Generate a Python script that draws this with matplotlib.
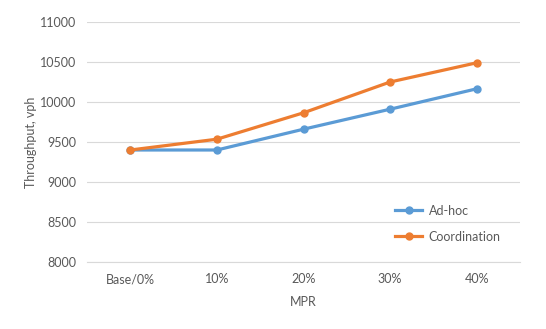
import matplotlib.pyplot as plt

categories = ["Base/0%", "10%", "20%", "30%", "40%"]
adhoc = [9400, 9400, 9660, 9910, 10165]
coordination = [9400, 9535, 9865, 10250, 10490]
y_ticks = [8000, 8500, 9000, 9500, 10000, 10500, 11000]

plt.rcParams['font.family'] = ['Lato', 'DejaVu Sans']
text_color = '#595959'

fig = plt.figure(figsize=(5.46, 3.29), dpi=100)
ax = fig.add_axes([87 / 546, 1 - 262 / 329, (520 - 87) / 546, (262 - 22) / 329])

x = range(len(categories))
ax.plot(x, adhoc, color='#5B9BD5', lw=2.3, marker='o', ms=5, label='Ad-hoc', zorder=3)
ax.plot(x, coordination, color='#ED7D31', lw=2.3, marker='o', ms=5, label='Coordination', zorder=3)

ax.set_xlim(-0.5, len(categories) - 0.5)
ax.set_ylim(8000, 11000)
ax.set_yticks(y_ticks)
ax.set_xticks(list(x))
ax.set_xticklabels(categories)
ax.grid(axis='y', color='#D9D9D9', lw=0.8)
ax.set_axisbelow(True)
ax.tick_params(length=0, labelsize=9, labelcolor=text_color, pad=8)
for s in ['top', 'right', 'left']:
    ax.spines[s].set_visible(False)
ax.spines['bottom'].set_color('#D9D9D9')

ax.set_xlabel("MPR", fontsize=9, color=text_color, labelpad=8)
ax.set_ylabel("Throughput, vph", fontsize=9, color=text_color, labelpad=2)

ax.legend(loc='upper left', bbox_to_anchor=(0.685, 0.285), frameon=False,
          fontsize=9, labelcolor=text_color, handlelength=2.2, labelspacing=1.1,
          handletextpad=0.5)

fig.savefig("out.png", dpi=100)
